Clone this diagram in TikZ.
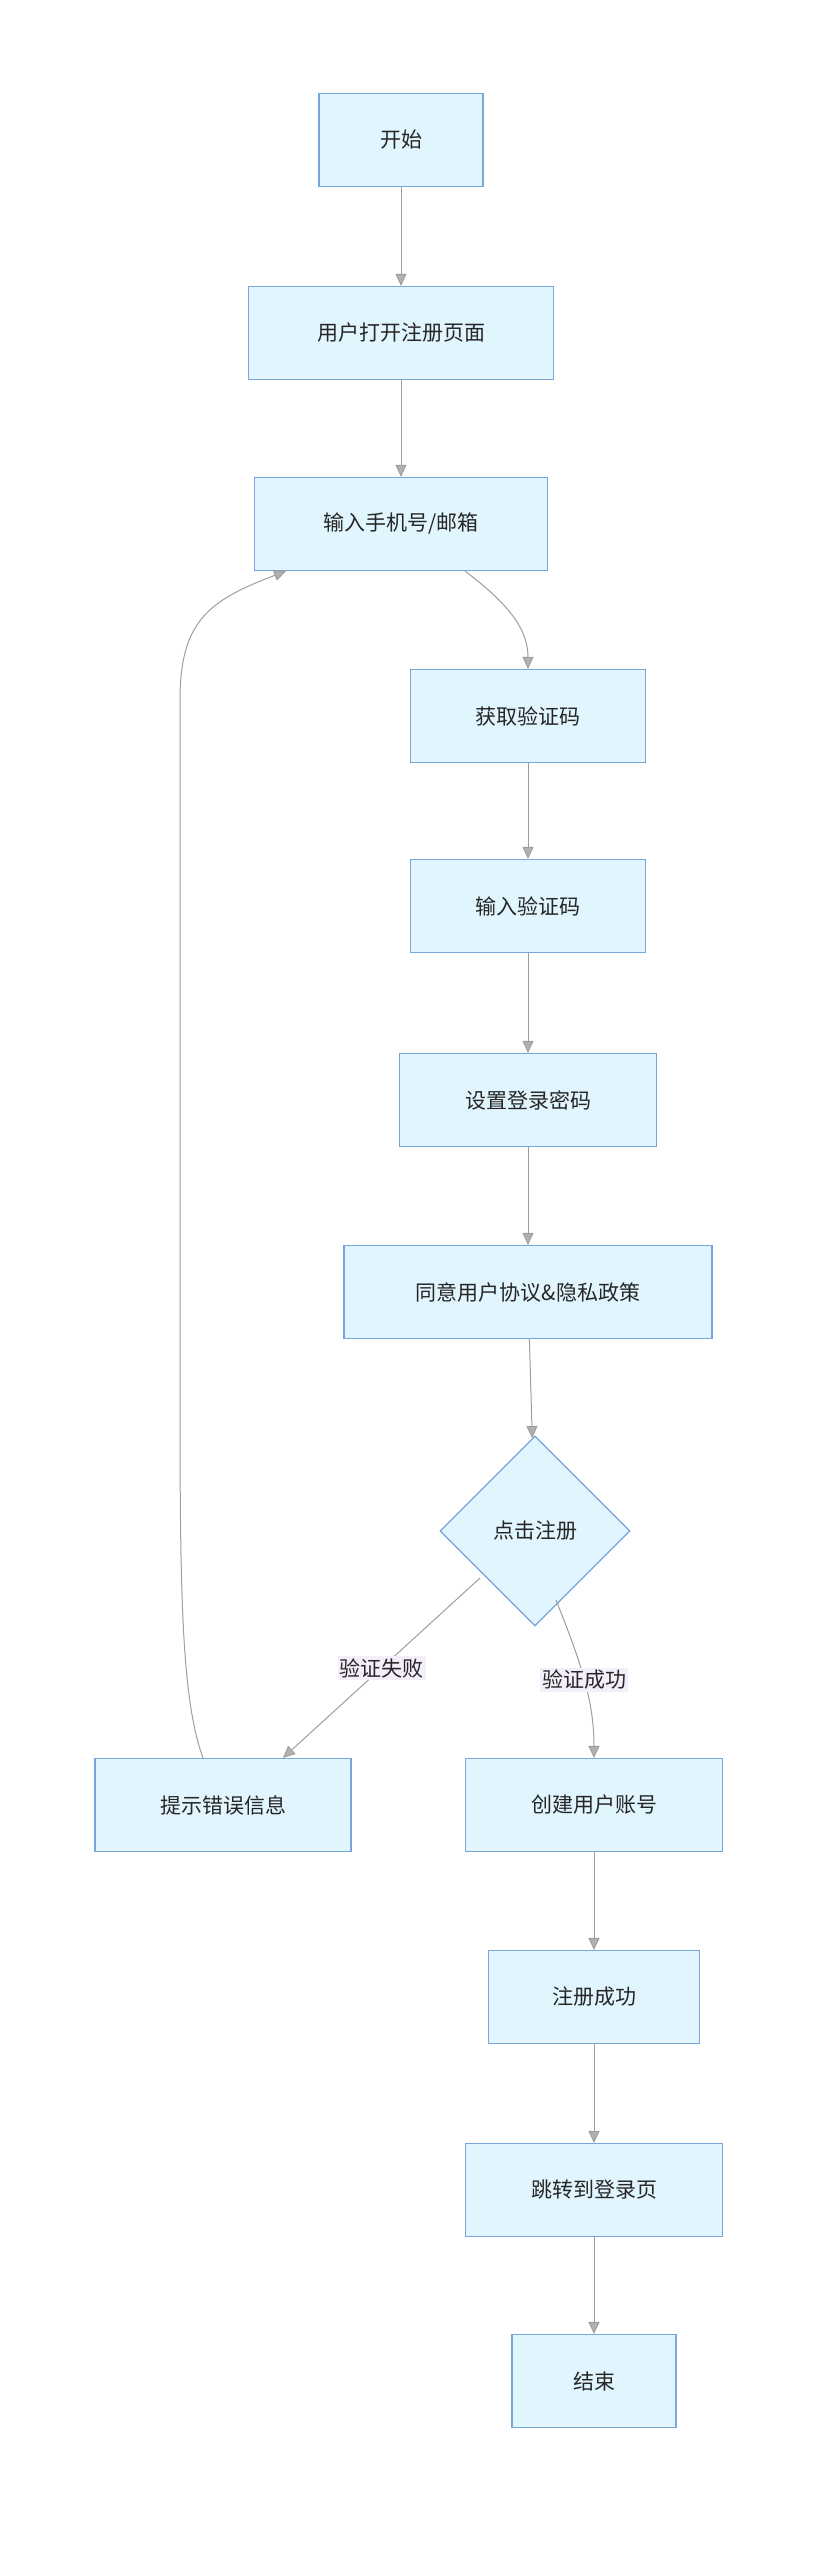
\documentclass[tikz,border=0pt]{standalone}
\usepackage{fontspec}
\setmainfont{Noto Sans CJK SC}
\usetikzlibrary{positioning,shapes.geometric,arrows.meta}
\definecolor{boxfill}{HTML}{E1F5FE}
\definecolor{boxline}{HTML}{7AA5D8}
\definecolor{edgecol}{HTML}{9E9E9E}
\definecolor{lblfill}{HTML}{F3EEFA}
\tikzset{
  box/.style={draw=boxline, fill=boxfill, line width=1.2pt, minimum height=93pt, font=\fontsize{21}{24}\selectfont, text=black!85},
  choice/.style={diamond, draw=boxline, fill=boxfill, line width=1.2pt, minimum width=190pt, minimum height=190pt, aspect=1, inner sep=0pt, font=\fontsize{21}{24}\selectfont, text=black!85},
  flow/.style={draw=edgecol, line width=1pt, -{Triangle[length=12pt,width=11pt,fill=edgecol!80]}},
  lbl/.style={fill=lblfill, font=\fontsize{21}{24}\selectfont, text=black!85, inner sep=2pt}
}
\begin{document}
\begin{tikzpicture}[x=1pt,y=-1pt]
  \useasboundingbox (0,0) rectangle (835,2576);

  \node[box, minimum width=164pt] (start) at (401,140) {开始};
  \node[box, minimum width=305pt] (open) at (401,333) {用户打开注册页面};
  \node[box, minimum width=293pt] (phone) at (401,524) {输入手机号/邮箱};
  \node[box, minimum width=235pt] (getcode) at (528,716) {获取验证码};
  \node[box, minimum width=235pt] (inputcode) at (528,906) {输入验证码};
  \node[box, minimum width=257pt] (pwd) at (528,1100) {设置登录密码};
  \node[box, minimum width=368pt] (agree) at (528,1292) {同意用户协议\&隐私政策};
  \node[choice] (click) at (535,1531) {点击注册};
  \node[box, minimum width=256pt] (error) at (223,1805) {提示错误信息};
  \node[box, minimum width=257pt] (create) at (594,1805) {创建用户账号};
  \node[box, minimum width=211pt] (ok) at (594,1997) {注册成功};
  \node[box, minimum width=257pt] (jump) at (594,2190) {跳转到登录页};
  \node[box, minimum width=164pt] (stop) at (594,2381) {结束};

  \coordinate (pa) at ([xshift=64pt]phone.south);
  \coordinate (pb) at ([xshift=-115pt]phone.south);
  \coordinate (ca) at (480,1578);
  \coordinate (cb) at (556,1600);
  \coordinate (ea) at ([xshift=-20pt]error.north);
  \coordinate (eb) at ([xshift=60pt]error.north);

  \draw[flow] (start) -- (open);
  \draw[flow] (open) -- (phone);
  \draw[flow] (pa) .. controls (510,605) and (528,630) .. (getcode.north);
  \draw[flow] (getcode) -- (inputcode);
  \draw[flow] (inputcode) -- (pwd);
  \draw[flow] (pwd) -- (agree);
  \draw[flow] (agree) -- (click);
  \draw[flow] (ca) -- node[lbl] {验证失败} (eb);
  \draw[flow] (cb) .. controls (580,1660) and (594,1700) .. node[lbl] {验证成功} (create.north);
  \draw[flow] (create) -- (ok);
  \draw[flow] (ok) -- (jump);
  \draw[flow] (jump) -- (stop);
  \draw[flow] (ea) .. controls (182,1700) and (180,1600) .. (180,1400)
    -- (180,700) .. controls (180,620) and (210,600) .. (pb);
\end{tikzpicture}
\end{document}
